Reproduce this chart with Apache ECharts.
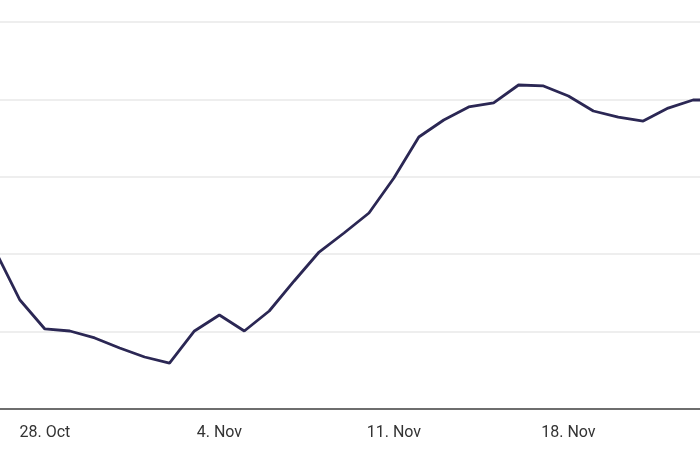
<!DOCTYPE html>
<html>
<head>
<meta charset="utf-8">
<script src="https://cdn.jsdelivr.net/npm/echarts@6/dist/echarts.min.js"></script>
<style>html,body{margin:0;padding:0;background:#fff;overflow:hidden;width:700px;height:450px;}#c{position:absolute;left:-5px;top:0;width:723px;height:450px;}</style>
</head>
<body>
<div id="c"></div>
<script>
const dates = ["26. Oct","27. Oct","28. Oct","29. Oct","30. Oct","31. Oct","1. Nov","2. Nov","3. Nov","4. Nov","5. Nov","6. Nov","7. Nov","8. Nov","9. Nov","10. Nov","11. Nov","12. Nov","13. Nov","14. Nov","15. Nov","16. Nov","17. Nov","18. Nov","19. Nov","20. Nov","21. Nov","22. Nov","23. Nov","24. Nov"];
const values = [102.7,70.4,51.7,50.4,45.9,39.4,33.6,29.7,50.4,60.7,50.4,63.3,82.7,101.4,113.7,126.6,149.2,175.7,186.7,195.1,197.7,209.3,208.7,202.2,192.5,188.6,186.0,194.4,199.6,199.6];
const labeledDates = ["28. Oct","4. Nov","11. Nov","18. Nov"];

const chart = echarts.init(document.getElementById('c'), null, {renderer:'canvas'});
chart.setOption({
  animation:false,
  backgroundColor:'#ffffff',
  grid:{left:0, right:0, top:22, bottom:41, containLabel:false},
  xAxis:{
    type:'category', data:dates, boundaryGap:false,
    axisLine:{show:true, lineStyle:{color:'#6e6e6e', width:2}},
    axisTick:{show:false},
    splitLine:{show:false},
    axisLabel:{
      interval:(i, v)=>labeledDates.includes(v),
      color:'#333333', fontSize:16, fontFamily:'Roboto', margin:16
    }
  },
  yAxis:{
    type:'value', min:0, max:250, interval:50,
    axisLabel:{show:false}, axisLine:{show:false}, axisTick:{show:false},
    splitLine:{show:true, lineStyle:{color:'#eeeeee', width:2}}
  },
  series:[{
    type:'line', data:values, symbol:'none', smooth:false,
    lineStyle:{color:'#2b2754', width:2.8}
  }]
});
</script>
</body>
</html>
